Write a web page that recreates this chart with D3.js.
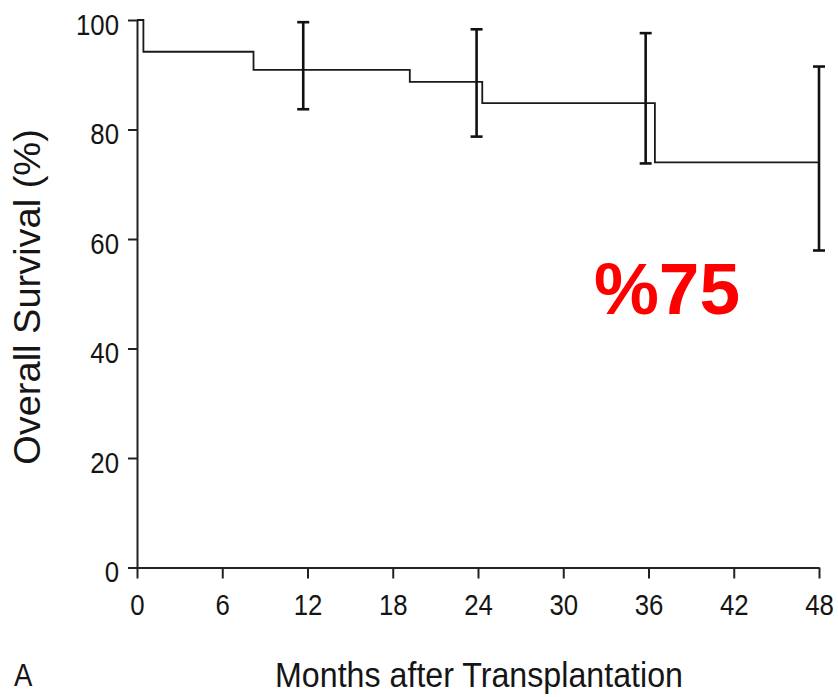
<!DOCTYPE html>
<html>
<head>
<meta charset="utf-8">
<script src="https://cdn.jsdelivr.net/npm/d3@7"></script>
<style>
  html, body { margin: 0; padding: 0; background: #fff; }
  svg { display: block; }
  text { font-family: "Liberation Sans", Arial, Helvetica, sans-serif; fill: #151515; }
</style>
</head>
<body>
<svg id="chart" width="838" height="697"></svg>
<script>
// ---- data ----
const stepTimes    = [0, 0.45, 8.2, 19.2, 24.3, 36.45, 48];
const stepSurvival = [100, 94.2, 90.9, 88.7, 84.8, 74.0, 74.0];

const ciTimes = [11.7, 23.9, 35.8, 48];
const ciLower = [83.7, 78.7, 73.8, 57.9];
const ciUpper = [99.6, 98.3, 97.6, 91.5];

const xTicks = [0, 6, 12, 18, 24, 30, 36, 42, 48];
const yTicks = [0, 20, 40, 60, 80, 100];

const xTitle = "Months after Transplantation";
const yTitle = "Overall Survival (%)";
const panelLabel = "A";
const annotation = "%75";

// ---- layout ----
const svg = d3.select("#chart");
const x = d3.scaleLinear().domain([0, 48]).range([137, 819]);
const y = d3.scaleLinear().domain([0, 100]).range([567.5, 20]);
const sx = 0.86;

// x axis
const gx = svg.append("g")
  .attr("transform", `translate(0,${y(0)})`)
  .call(d3.axisBottom(x).tickValues(xTicks).tickSize(11).tickSizeOuter(0));
gx.select(".domain").attr("stroke", "#222").attr("stroke-width", 2);
gx.selectAll(".tick line").attr("stroke", "#222").attr("stroke-width", 2);
gx.selectAll(".tick text")
  .attr("y", 48).attr("dy", 0)
  .attr("transform", `scale(${sx},1)`)
  .style("font-size", "30px");

// y axis
const gy = svg.append("g")
  .attr("transform", `translate(${x(0)},0)`)
  .call(d3.axisLeft(y).tickValues(yTicks).tickSize(9).tickSizeOuter(0));
gy.select(".domain").attr("stroke", "#222").attr("stroke-width", 2);
gy.selectAll(".tick line").attr("stroke", "#222").attr("stroke-width", 2);
gy.selectAll(".tick text")
  .attr("x", -18 / sx).attr("y", 14).attr("dy", 0)
  .attr("transform", `scale(${sx},1)`)
  .style("font-size", "30px");

// step curve
const pts = stepTimes.map((t, i) => [t, stepSurvival[i]]);
svg.append("path")
  .datum(pts)
  .attr("fill", "none")
  .attr("stroke", "#1a1a1a")
  .attr("stroke-width", 1.8)
  .attr("d", d3.line().x(d => x(d[0])).y(d => y(d[1])).curve(d3.curveStepAfter));

// confidence bars
const ci = ciTimes.map((t, i) => ({t, lo: ciLower[i], hi: ciUpper[i]}));
const cg = svg.append("g").attr("stroke", "#111").attr("stroke-width", 2.6).attr("fill", "none");
cg.selectAll("line.v").data(ci).join("line").attr("class", "v")
  .attr("x1", d => x(d.t)).attr("x2", d => x(d.t))
  .attr("y1", d => y(d.lo)).attr("y2", d => y(d.hi));
cg.selectAll("line.top").data(ci).join("line").attr("class", "top")
  .attr("x1", d => x(d.t) - 6).attr("x2", d => x(d.t) + 6)
  .attr("y1", d => y(d.hi)).attr("y2", d => y(d.hi));
cg.selectAll("line.bot").data(ci).join("line").attr("class", "bot")
  .attr("x1", d => x(d.t) - 6).attr("x2", d => x(d.t) + 6)
  .attr("y1", d => y(d.lo)).attr("y2", d => y(d.lo));

// titles
svg.append("text")
  .attr("transform", `translate(479,687) scale(0.92,1)`)
  .attr("text-anchor", "middle")
  .style("font-size", "35px")
  .text(xTitle);

svg.append("text")
  .attr("transform", `translate(40,297) scale(0.95,1) rotate(-90)`)
  .attr("text-anchor", "middle")
  .style("font-size", "38px")
  .text(yTitle);

svg.append("text")
  .attr("transform", `translate(14,686) scale(${sx},1)`)
  .style("font-size", "32px")
  .text(panelLabel);

svg.append("text")
  .attr("x", 667).attr("y", 314)
  .attr("text-anchor", "middle")
  .style("font-size", "73px")
  .style("font-weight", "bold")
  .style("fill", "#ff0000")
  .text(annotation);
</script>
</body>
</html>
